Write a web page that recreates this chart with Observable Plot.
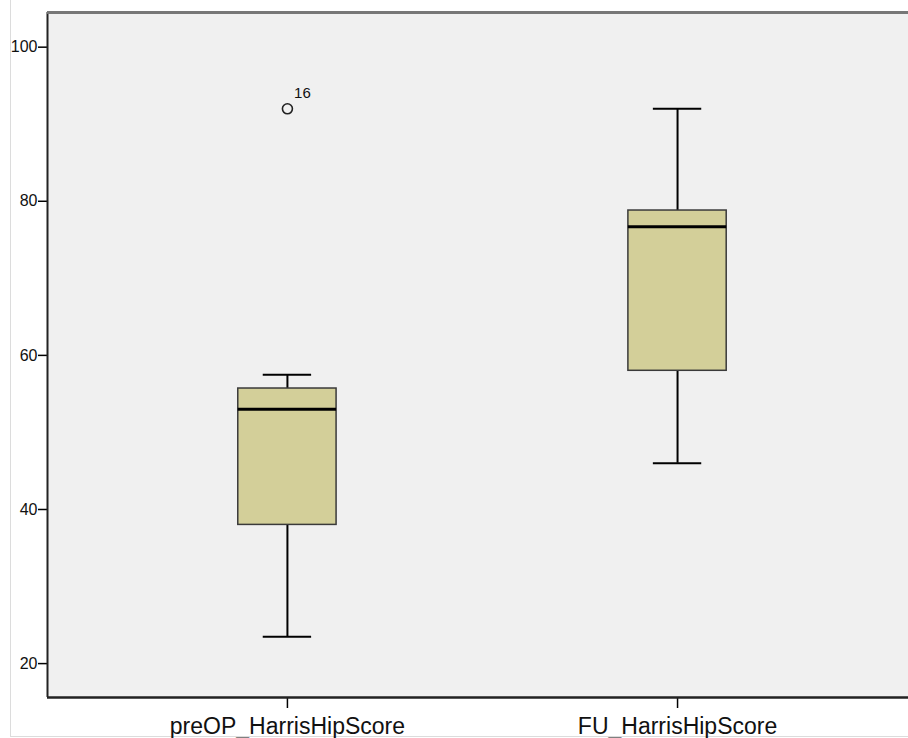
<!DOCTYPE html>
<html>
<head>
<meta charset="utf-8">
<script src="https://cdn.jsdelivr.net/npm/d3@7"></script>
<script src="https://cdn.jsdelivr.net/npm/@observablehq/plot@0.6"></script>
<style>
  html, body { margin: 0; padding: 0; background: #fff; }
  #chart { position: relative; width: 908px; height: 738px; }
  #chart svg { display: block; position: absolute; left: 0; top: 0; }
  #edge { position: absolute; left: 10px; top: 0; width: 898px; height: 736px;
          border-left: 1px solid #dcdcdc; border-bottom: 1px solid #dcdcdc; }
</style>
</head>
<body>
<div id="chart"><div id="edge"></div></div>
<script>
const categories = ["preOP_HarrisHipScore", "FU_HarrisHipScore"];
const whiskerLow = [23.5, 46.0];
const q1 = [38.0, 58.0];
const median = [53.0, 76.7];
const q3 = [55.7, 78.8];
const whiskerHigh = [57.5, 92.0];
const outlierCategory = ["preOP_HarrisHipScore"];
const outlierValue = [92.0];
const outlierLabel = ["16"];
const yTicks = [20, 40, 60, 80, 100];

const boxes = categories.map((c, i) => ({
  cat: c, i, lo: whiskerLow[i], q1: q1[i], med: median[i], q3: q3[i], hi: whiskerHigh[i]
}));
const outliers = outlierValue.map((v, k) => ({
  i: categories.indexOf(outlierCategory[k]), v, label: outlierLabel[k]
}));

const bw = 0.126, cw = 0.062;

const chart = Plot.plot({
  width: 908,
  height: 738,
  marginLeft: 47,
  marginRight: 0,
  marginTop: 12,
  marginBottom: 41,
  style: { fontFamily: "Liberation Sans, Arial, sans-serif", background: "transparent", overflow: "visible" },
  x: { domain: [-0.615, 1.592], axis: null, label: null },
  y: { domain: [15.6, 104.5], axis: null, label: null },
  marks: [
    Plot.rect([0], { x1: -0.615, x2: 1.592, y1: 15.6, y2: 104.5, fill: "#f0f0f0" }),
    // whiskers
    Plot.ruleX(boxes, { x: "i", y1: "lo", y2: "q1", stroke: "#000", strokeWidth: 2 }),
    Plot.ruleX(boxes, { x: "i", y1: "q3", y2: "hi", stroke: "#000", strokeWidth: 2 }),
    Plot.ruleY(boxes, { y: "lo", x1: d => d.i - cw, x2: d => d.i + cw, stroke: "#000", strokeWidth: 2 }),
    Plot.ruleY(boxes, { y: "hi", x1: d => d.i - cw, x2: d => d.i + cw, stroke: "#000", strokeWidth: 2 }),
    // boxes
    Plot.rect(boxes, { x1: d => d.i - bw, x2: d => d.i + bw, y1: "q1", y2: "q3", fill: "#d3cf99", stroke: "#3a3a3a", strokeWidth: 1.5 }),
    Plot.ruleY(boxes, { y: "med", x1: d => d.i - bw, x2: d => d.i + bw, stroke: "#000", strokeWidth: 3 }),
    // outliers
    Plot.dot(outliers, { x: "i", y: "v", r: 5, stroke: "#222", strokeWidth: 1.6, fill: "none" }),
    Plot.text(outliers, { x: "i", y: "v", text: "label", dx: 15, dy: -16, fontSize: 15, fill: "#111" }),
    // axes
    Plot.axisY(yTicks, { label: null, tickSize: 9, tickPadding: 1, fontSize: 16, tickFormat: d => String(d), stroke: "#000", strokeWidth: 1.5, fill: "#111" }),
    Plot.axisX([0, 1], { label: null, tickSize: 11, tickPadding: 9, fontSize: 23, tickFormat: i => categories[i], stroke: "#000", strokeWidth: 1.5, fill: "#111" }),
    // frame lines
    Plot.ruleX([-0.615], { stroke: "#222", strokeWidth: 2 }),
    Plot.ruleY([15.6], { stroke: "#222", strokeWidth: 2.5 }),
    Plot.ruleY([104.5], { stroke: "#777", strokeWidth: 3 })
  ]
});
document.getElementById("chart").appendChild(chart);
</script>
</body>
</html>
